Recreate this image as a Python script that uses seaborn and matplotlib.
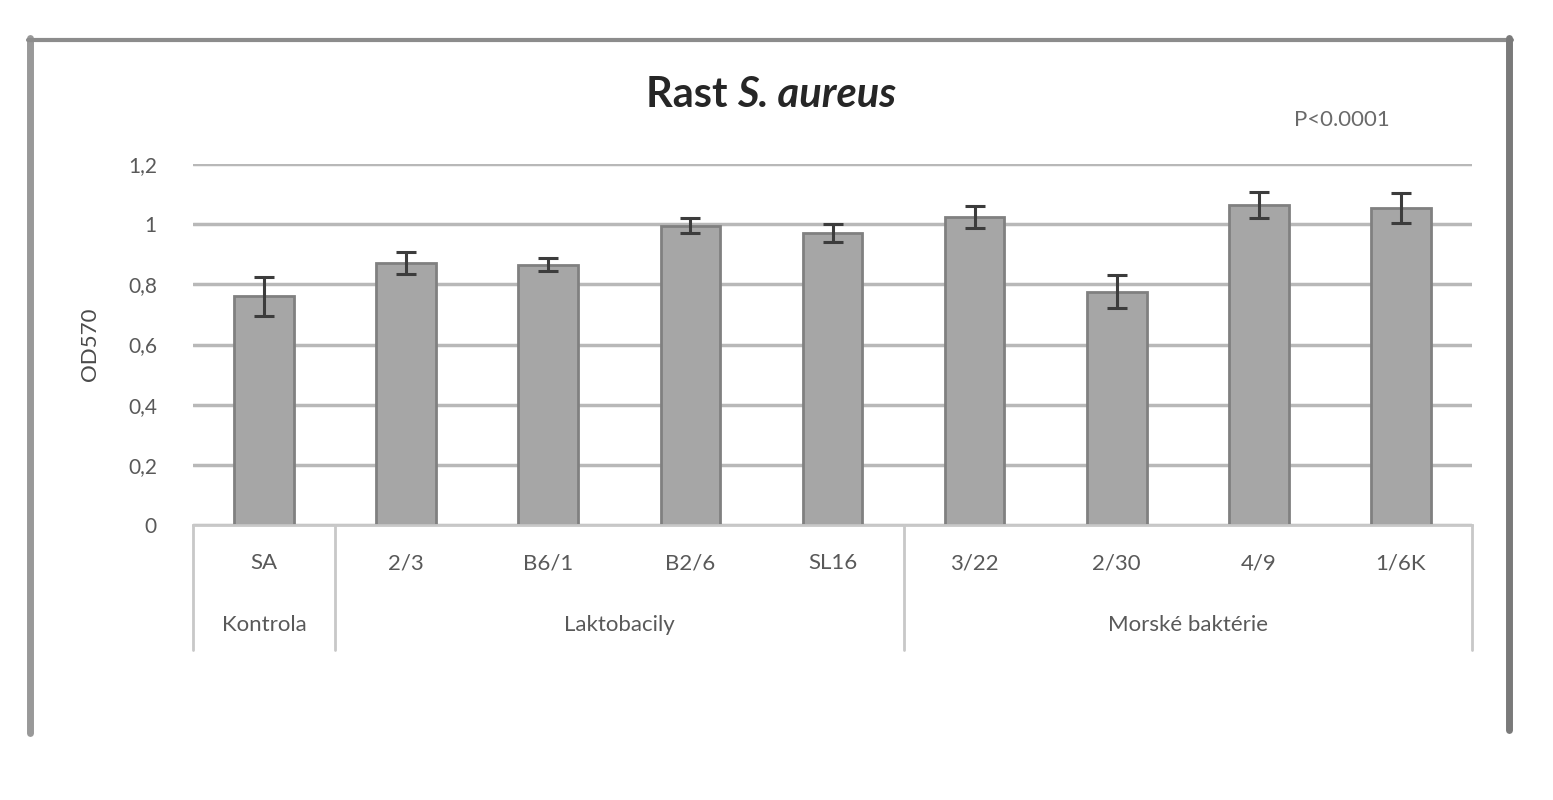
import matplotlib
matplotlib.use("Agg")
import matplotlib.pyplot as plt
import matplotlib.transforms as mtransforms
from matplotlib.lines import Line2D
import seaborn as sns
import pandas as pd

# ---- data ----
categories = ["SA", "2/3", "B6/1", "B2/6", "SL16", "3/22", "2/30", "4/9", "1/6K"]
values = [0.76, 0.87, 0.865, 0.995, 0.97, 1.025, 0.775, 1.065, 1.053]
errors = [0.065, 0.037, 0.022, 0.025, 0.03, 0.037, 0.055, 0.043, 0.05]
groups = ["Kontrola", "Laktobacily", "Morské baktérie"]
group_sizes = [1, 4, 4]
yticks = [0, 0.2, 0.4, 0.6, 0.8, 1.0, 1.2]
ytick_labels = ["0", "0,2", "0,4", "0,6", "0,8", "1", "1,2"]
ylabel = "OD570"
title_plain = "Rast "
title_italic = "S. aureus"
p_text = "P<0.0001"

sns.set_theme(style="white")
plt.rcParams["font.family"] = ["Lato", "DejaVu Sans"]

df = pd.DataFrame({"cat": categories, "val": values})

W, H = 1553, 800
fig = plt.figure(figsize=(W / 100, H / 100), dpi=100)
fig.patch.set_facecolor("white")
ax = fig.add_axes([193 / W, 1 - 525 / H, (1472 - 193) / W, (525 - 164) / H])

txt = "#595959"
sns.barplot(data=df, x="cat", y="val", order=categories, color="#a6a6a6",
            saturation=1, width=0.42, edgecolor="#808080", linewidth=2, ax=ax,
            errorbar=None)
ax.errorbar(range(len(categories)), values, yerr=errors, fmt="none",
            ecolor="#3c3c3c", elinewidth=2.2, capsize=7, capthick=2.2, zorder=5)

ax.set_ylim(0, 1.2)
ax.set_xlim(-0.5, len(categories) - 0.5)
ax.set_yticks(yticks)
ax.set_yticklabels(ytick_labels)
ax.set_axisbelow(True)
ax.grid(axis="y", color="#b8b8b8", linewidth=2.5)
ax.grid(axis="x", visible=False)
for s in ["top", "right", "left"]:
    ax.spines[s].set_visible(False)
ax.spines["bottom"].set_color("#c8c8c8")
ax.spines["bottom"].set_linewidth(2)
ax.tick_params(axis="y", length=0, pad=26, labelsize=15, labelcolor=txt)
ax.tick_params(axis="x", length=0, pad=0, labelsize=16, labelcolor=txt)
ax.set_xticklabels([])
ax.set_xlabel("")
ax.set_ylabel(ylabel, fontsize=16, color="#4a4a4a")
ax.yaxis.set_label_coords(-(193 - 100) / 1279, 0.5)

# category labels and group boxes beneath the axis
trans = mtransforms.blended_transform_factory(ax.transData, ax.transAxes)
for i, c in enumerate(categories):
    ax.text(i, -(563 - 525) / 361, c, transform=trans, ha="center", va="center",
            fontsize=16, color=txt)
start = -0.5
bounds = [start]
for g, n in zip(groups, group_sizes):
    mid = start + n / 2
    ax.text(mid, -(625 - 525) / 361, g, transform=trans, ha="center", va="center",
            fontsize=16, color=txt)
    start += n
    bounds.append(start)
for b in bounds:
    ax.plot([b, b], [0, -(650 - 525) / 361], transform=trans, color="#c8c8c8",
            linewidth=2, clip_on=False)

# title: plain bold + bold italic, centred together
ty = 1 - 95 / H
t1 = fig.text(0, ty, title_plain, ha="left", va="center", fontsize=30,
              fontweight="bold", color="#262626")
t2 = fig.text(0, ty, title_italic, ha="left", va="center", fontsize=30,
              fontweight="bold", fontstyle="italic", color="#262626")
fig.canvas.draw()
r = fig.canvas.get_renderer()
w1 = t1.get_window_extent(r).width
w2 = t2.get_window_extent(r).width
x0 = 771 - (w1 + w2) / 2
t1.set_x(x0 / W)
t2.set_x((x0 + w1) / W)

fig.text(1342 / W, 1 - 120 / H, p_text, ha="center", va="center", fontsize=16,
         color="#6a6a6a")

# outer frame (cropped at bottom)
fig.add_artist(Line2D([30 / W, 30 / W], [1 - 38 / H, 1 - 733 / H], color="#999999",
                      linewidth=5, transform=fig.transFigure))
fig.add_artist(Line2D([28 / W, 1512 / W], [1 - 40 / H, 1 - 40 / H], color="#8c8c8c",
                      linewidth=3, transform=fig.transFigure))
fig.add_artist(Line2D([1509 / W, 1509 / W], [1 - 38 / H, 1 - 730 / H], color="#7a7a7a",
                      linewidth=5, transform=fig.transFigure))

fig.savefig("out.png", dpi=100, facecolor="white")
